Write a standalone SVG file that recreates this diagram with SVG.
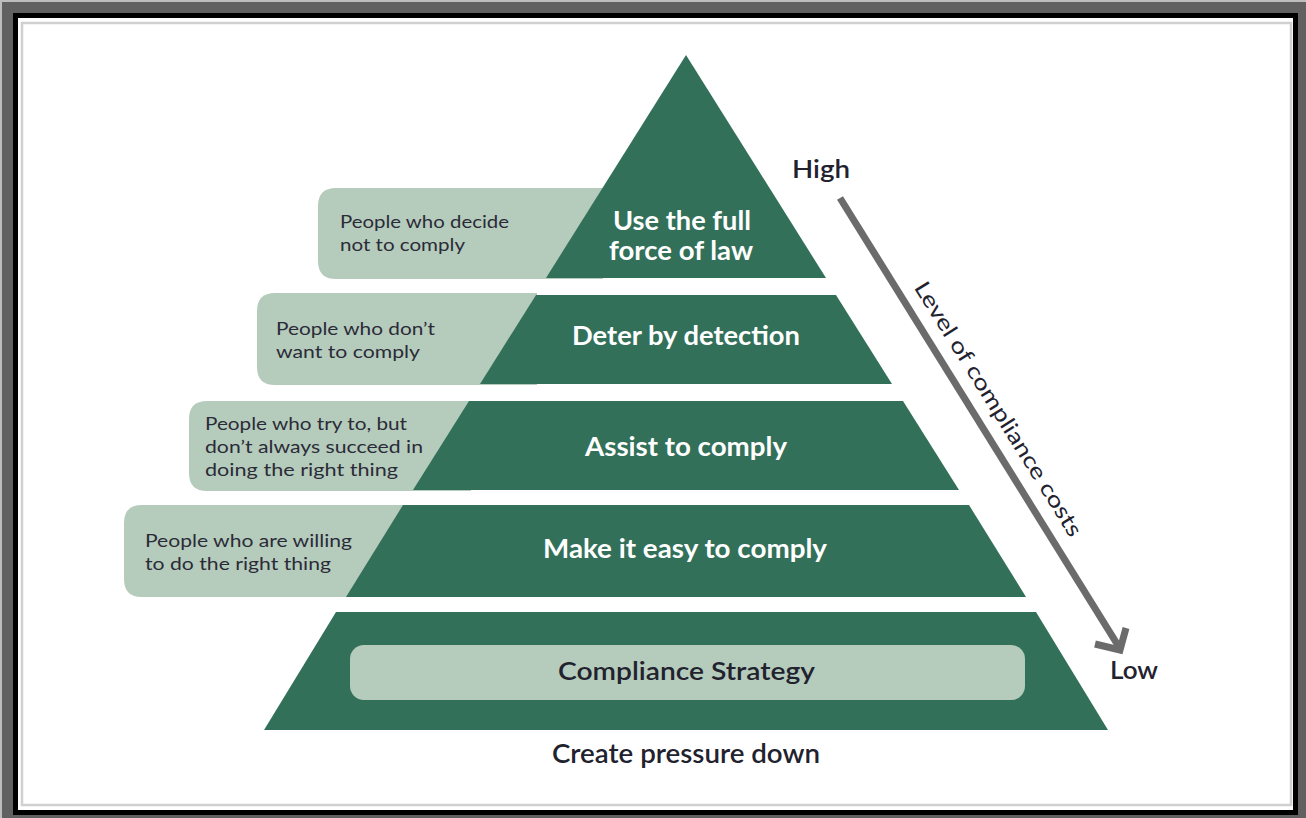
<svg xmlns="http://www.w3.org/2000/svg" width="1306" height="818" viewBox="0 0 1306 818">
<style>
.tier{fill:#33705a}
.pale{fill:#b5cbbc}
.lbl{font-family:Lato,"Liberation Sans",sans-serif;font-weight:bold;font-size:27px;fill:#ffffff;text-anchor:middle}
.box{font-family:Lato,"Liberation Sans",sans-serif;font-size:18px;fill:#2b2b38}
.dark{font-family:Lato,"Liberation Sans",sans-serif;fill:#22222e}
</style>
<g id="frame">
<rect x="0" y="0" width="1306" height="818" fill="#616161"/>
<rect x="0" y="0" width="1306" height="2" fill="#bdbdbd"/>
<rect x="0" y="0" width="2" height="818" fill="#bdbdbd"/>
<rect x="13" y="13" width="1285" height="802" fill="#000000"/>
<rect x="18" y="18" width="1275" height="792" fill="#ffffff"/>
<rect x="22" y="23" width="1269" height="782" fill="none" stroke="#d0d0d0" stroke-width="2.5"/>
</g>
<g id="box-decide">
<path class="pale" d="M336,188 H603 V279 H336 Q318,279 318,261 V206 Q318,188 336,188 Z"/>
<text class="box" x="340" y="228" textLength="169" lengthAdjust="spacingAndGlyphs">People who decide</text>
<text class="box" x="340" y="251" textLength="125" lengthAdjust="spacingAndGlyphs">not to comply</text>
</g>
<g id="box-dont-want">
<path class="pale" d="M275,293 H537 V385 H275 Q257,385 257,367 V311 Q257,293 275,293 Z"/>
<text class="box" x="276" y="335" textLength="159" lengthAdjust="spacingAndGlyphs">People who don’t</text>
<text class="box" x="276" y="358" textLength="144" lengthAdjust="spacingAndGlyphs">want to comply</text>
</g>
<g id="box-try">
<path class="pale" d="M207,401 H471 V491 H207 Q189,491 189,473 V419 Q189,401 207,401 Z"/>
<text class="box" x="205" y="430" textLength="202" lengthAdjust="spacingAndGlyphs">People who try to, but</text>
<text class="box" x="205" y="453" textLength="218" lengthAdjust="spacingAndGlyphs">don’t always succeed in</text>
<text class="box" x="205" y="476" textLength="193" lengthAdjust="spacingAndGlyphs">doing the right thing</text>
</g>
<g id="box-willing">
<path class="pale" d="M142,505 H405 V597 H142 Q124,597 124,579 V523 Q124,505 142,505 Z"/>
<text class="box" x="145" y="547" textLength="207" lengthAdjust="spacingAndGlyphs">People who are willing</text>
<text class="box" x="145" y="570" textLength="186" lengthAdjust="spacingAndGlyphs">to do the right thing</text>
</g>
<g id="tier-law">
<polygon class="tier" points="686,55 826,278 546,278"/>
<text class="lbl" x="682" y="230" textLength="138" lengthAdjust="spacingAndGlyphs">Use the full</text>
<text class="lbl" x="681" y="260" textLength="144" lengthAdjust="spacingAndGlyphs">force of law</text>
</g>
<g id="tier-detect">
<polygon class="tier" points="536,295 836,295 892,384 480,384"/>
<text class="lbl" x="686" y="345" textLength="228" lengthAdjust="spacingAndGlyphs">Deter by detection</text>
</g>
<g id="tier-assist">
<polygon class="tier" points="469,401 903,401 959,490 413,490"/>
<text class="lbl" x="686" y="456" textLength="202" lengthAdjust="spacingAndGlyphs">Assist to comply</text>
</g>
<g id="tier-easy">
<polygon class="tier" points="403,505 969,505 1026,597 346,597"/>
<text class="lbl" x="685" y="558" textLength="284" lengthAdjust="spacingAndGlyphs">Make it easy to comply</text>
</g>
<g id="tier-strategy">
<polygon class="tier" points="336,612 1036,612 1108,730 264,730"/>
<rect class="pale" x="350" y="645" width="675" height="55" rx="14"/>
<text class="dark" x="686.5" y="680" font-size="25" font-weight="600" text-anchor="middle" textLength="257" lengthAdjust="spacingAndGlyphs">Compliance Strategy</text>
</g>
<g id="caption">
<text class="dark" x="686" y="763" font-size="26" font-weight="600" text-anchor="middle" textLength="268" lengthAdjust="spacingAndGlyphs">Create pressure down</text>
</g>
<g id="label-high">
<text class="dark" x="792" y="178" font-size="25" font-weight="600" textLength="58" lengthAdjust="spacingAndGlyphs">High</text>
</g>
<g id="label-low">
<text class="dark" x="1110" y="679" font-size="25" font-weight="600" textLength="48" lengthAdjust="spacingAndGlyphs">Low</text>
</g>
<g id="connectors">
<line x1="840" y1="198" x2="1119" y2="647" stroke="#6b6b6b" stroke-width="7"/>
<polyline points="1095,644 1120,650 1126,628" fill="none" stroke="#6b6b6b" stroke-width="7" stroke-linejoin="miter"/>
<text class="dark" font-size="22" text-anchor="middle" textLength="296" lengthAdjust="spacingAndGlyphs" transform="translate(992,413) rotate(58)">Level of compliance costs</text>
</g>
</svg>
